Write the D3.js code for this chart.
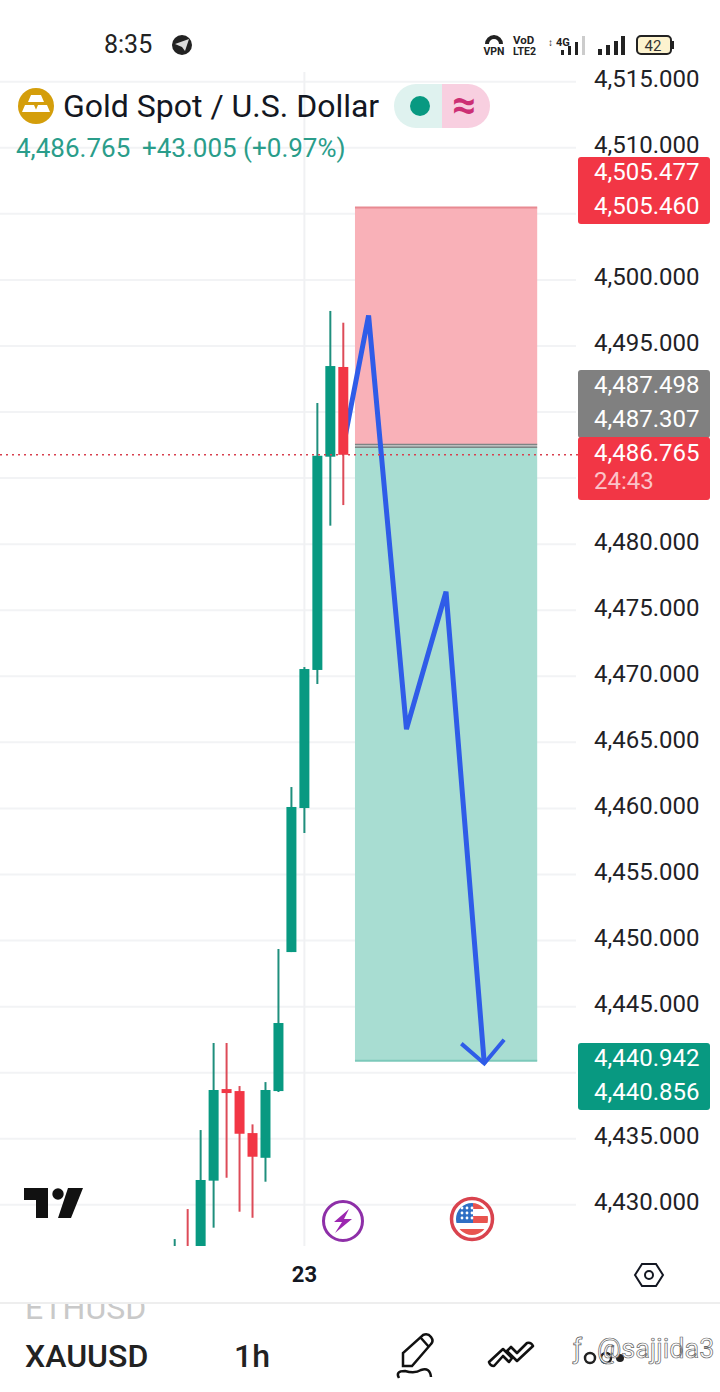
<!DOCTYPE html>
<html>
<head>
<meta charset="utf-8">
<script src="https://cdn.jsdelivr.net/npm/d3@7"></script>
<style>
html, body { margin: 0; padding: 0; background: #fff; }
svg { display: block; font-family: Roboto, sans-serif; }
</style>
</head>
<body>
<script>
// candles, oldest first. first bars run off the bottom of the pane
var bars   = [0, 1, 2, 3, 4, 5, 6, 7, 8, 9, 10, 11, 12, 13];
var opens  = [4424.0, 4426.0, 4424.5, 4431.83, 4438.76, 4438.61, 4435.43, 4433.56, 4438.61, 4449.13, 4460.03, 4470.48, 4486.62, 4493.41];
var highs  = [4427.41, 4429.68, 4435.66, 4442.25, 4442.25, 4438.99, 4436.09, 4439.29, 4449.36, 4461.62, 4470.70, 4490.68, 4497.65, 4496.76];
var lows   = [4422.0, 4423.0, 4423.0, 4428.27, 4432.05, 4429.48, 4429.02, 4431.75, 4438.54, 4449.13, 4458.14, 4469.42, 4481.40, 4482.96];
var closes = [4425.0, 4424.5, 4431.88, 4438.69, 4438.46, 4435.38, 4433.64, 4438.69, 4443.76, 4460.11, 4470.55, 4486.69, 4493.48, 4486.765];

var priceTicks = [4515, 4510, 4505, 4500, 4495, 4490, 4485, 4480, 4475, 4470, 4465, 4460, 4455, 4450, 4445, 4440, 4435, 4430];
var hiddenTicks = [4505, 4490, 4485, 4440];

// position tool, in bars and price
var toolBars = [13.9, 27.95];
var stopPrice = 4505.477;
var entryPrices = [4487.498, 4487.307];
var targetPrice = 4440.9;

// hand drawn path, bar number + price
var pathBars   = [13.0, 14.95, 17.87, 20.92, 23.87];
var pathPrices = [4487.4, 4497.3, 4466.0, 4476.4, 4440.7];
var headBars   = [22.1, 23.87, 25.4];
var headPrices = [4442.2, 4440.7, 4442.5];

var lastPrice = 4486.765;

var stopTags = ['4,505.477', '4,505.460'];
var entryTags = ['4,487.498', '4,487.307'];
var targetTags = ['4,440.942', '4,440.856'];

var GREEN = '#089981', RED = '#f23645', W = 720, H = 1392;

var svg = d3.select('body').append('svg').attr('width', W).attr('height', H);

var y = d3.scaleLinear().domain([4515, 4440]).range([81.7, 1072.7]);
var x = d3.scaleLinear().domain([0, 13]).range([174.7, 343.3]);

svg.append('defs').append('clipPath').attr('id', 'pane').append('rect')
  .attr('x', 0).attr('y', 72).attr('width', 578).attr('height', 1174);

var pane = svg.append('g').attr('clip-path', 'url(#pane)');

// grid
pane.selectAll('line.grid').data(priceTicks).enter().append('line')
  .attr('x1', 0).attr('x2', 576)
  .attr('y1', function(d) { return y(d); }).attr('y2', function(d) { return y(d); })
  .attr('stroke', '#f2f3f5').attr('stroke-width', 2);
pane.append('line').attr('x1', x(10)).attr('x2', x(10)).attr('y1', 72).attr('y2', 1246)
  .attr('stroke', '#f0f1f3').attr('stroke-width', 2);

// position tool
pane.append('rect').attr('x', x(toolBars[0])).attr('width', x(toolBars[1]) - x(toolBars[0]))
  .attr('y', y(stopPrice)).attr('height', y(entryPrices[0]) - y(stopPrice))
  .attr('fill', '#f9b1b8');
pane.append('rect').attr('x', x(toolBars[0])).attr('width', x(toolBars[1]) - x(toolBars[0]))
  .attr('y', y(entryPrices[1])).attr('height', y(targetPrice) - y(entryPrices[1]))
  .attr('fill', '#a8ddd2');
pane.append('line').attr('x1', x(toolBars[0])).attr('x2', x(toolBars[1]))
  .attr('y1', y(stopPrice)).attr('y2', y(stopPrice)).attr('stroke', '#e88a92').attr('stroke-width', 2);
pane.append('line').attr('x1', x(toolBars[0])).attr('x2', x(toolBars[1]))
  .attr('y1', y(targetPrice)).attr('y2', y(targetPrice)).attr('stroke', '#7cc9ba').attr('stroke-width', 2);
pane.selectAll('line.entry').data(entryPrices).enter().append('line')
  .attr('x1', x(toolBars[0])).attr('x2', x(toolBars[1]))
  .attr('y1', function(d) { return y(d) - 0.5; }).attr('y2', function(d) { return y(d) - 0.5; })
  .attr('stroke', '#7d8585').attr('stroke-width', 1.6);

// blue path goes under the candles
var line = d3.line()
  .x(function(d) { return x(d[0]); })
  .y(function(d) { return y(d[1]); });
pane.append('path').datum(d3.zip(pathBars, pathPrices)).attr('d', line)
  .attr('fill', 'none').attr('stroke', '#2f5ce8').attr('stroke-width', 5).attr('stroke-linejoin', 'miter');
pane.append('path').datum(d3.zip(headBars, headPrices)).attr('d', line)
  .attr('fill', 'none').attr('stroke', '#2f5ce8').attr('stroke-width', 4);

// candles
function barColor(i) { return closes[i] >= opens[i] ? GREEN : RED; }
var candle = pane.selectAll('g.candle').data(bars).enter().append('g').attr('class', 'candle');
candle.append('line')
  .attr('x1', function(i) { return x(i); }).attr('x2', function(i) { return x(i); })
  .attr('y1', function(i) { return y(highs[i]); }).attr('y2', function(i) { return y(lows[i]); })
  .attr('stroke', function(i) { return barColor(i) === GREEN ? '#1f8f7d' : '#dd4b58'; })
  .attr('stroke-width', 2);
candle.append('rect')
  .attr('x', function(i) { return x(i) - 5; }).attr('width', 10)
  .attr('y', function(i) { return y(Math.max(opens[i], closes[i])); })
  .attr('height', function(i) { return Math.abs(y(opens[i]) - y(closes[i])); })
  .attr('fill', barColor);

// last price line
pane.append('line').attr('x1', 0).attr('x2', 578)
  .attr('y1', y(lastPrice)).attr('y2', y(lastPrice))
  .attr('stroke', '#d8404f').attr('stroke-width', 1.5).attr('stroke-dasharray', '2 4');

// price axis
var fmt = d3.format(',.3f');
var axis = svg.append('g').attr('transform', 'translate(594,0)')
  .call(d3.axisRight(y).tickValues(priceTicks.filter(function(d) { return hiddenTicks.indexOf(d) < 0; }))
    .tickSize(0).tickPadding(0).tickFormat(fmt));
axis.select('.domain').remove();
axis.selectAll('text').attr('font-size', 24).attr('fill', '#1f2226')
  .attr('dy', null).attr('dominant-baseline', 'middle').attr('font-family', 'Roboto');
axis.selectAll('.tick').attr('transform', function(d) { return 'translate(0,' + (y(d) - 1) + ')'; });

// price tags on the right
function tagBox(top, bottom, fill) {
  svg.append('rect').attr('x', 578).attr('y', top).attr('width', 132).attr('height', bottom - top)
    .attr('rx', 3).attr('fill', fill);
}
function tagText(s, cy, fill) {
  svg.append('text').attr('x', 594).attr('y', cy).attr('dominant-baseline', 'middle')
    .attr('font-size', 24).attr('fill', fill).text(s);
}
tagBox(157, 224, '#f23645');
tagBox(370, 438, '#808080');
tagBox(437, 500, '#f23645');
tagBox(1043, 1110, '#089981');
stopTags.forEach(function(s, i) { tagText(s, 173.5 + i * 34, '#ffffff'); });
entryTags.forEach(function(s, i) { tagText(s, 386.5 + i * 34, '#ffffff'); });
tagText(fmt(lastPrice), 454.5, '#ffffff');
tagText('24:43', 482.5, '#fbc3c8');
targetTags.forEach(function(s, i) { tagText(s, 1059.5 + i * 34, '#ffffff'); });

// status bar
svg.append('text').attr('x', 104).attr('y', 53).attr('font-size', 25).attr('fill', '#222').text('8:35');
svg.append('circle').attr('cx', 182).attr('cy', 45).attr('r', 10).attr('fill', '#222');
svg.append('path').attr('d', 'M175 44 L189 39 L185 51 L182 47 Z').attr('fill', '#ddd');
svg.append('path').attr('d', 'M485 44 a9 9 0 0 1 18 0 l-4 0 a5 5 0 0 0 -10 0 Z').attr('fill', '#222');
svg.append('text').attr('x', 494).attr('y', 55).attr('text-anchor', 'middle').attr('font-size', 10.5).attr('font-weight', 700).attr('fill', '#222').text('VPN');
svg.append('text').attr('x', 513).attr('y', 44).attr('font-size', 11.5).attr('font-weight', 700).attr('fill', '#222').text('VoD');
svg.append('text').attr('x', 513).attr('y', 55).attr('font-size', 10.5).attr('font-weight', 700).attr('fill', '#222').text('LTE2');
svg.append('text').attr('x', 556).attr('y', 46).attr('font-size', 11).attr('font-weight', 700).attr('fill', '#222').text('4G');
svg.append('text').attr('x', 548).attr('y', 46).attr('font-size', 10).attr('fill', '#222').text('\u2195');
[[561, 50, 5], [568, 46, 9], [575, 42, 13]].forEach(function(b) {
  svg.append('rect').attr('x', b[0]).attr('y', b[1]).attr('width', 3).attr('height', b[2]).attr('fill', '#222');
});
svg.append('rect').attr('x', 582).attr('y', 36).attr('width', 3).attr('height', 19).attr('fill', '#ccc');
[[598, 49, 6], [606, 45, 10], [614, 41, 14], [621, 36, 19]].forEach(function(b) {
  svg.append('rect').attr('x', b[0]).attr('y', b[1]).attr('width', 4).attr('height', b[2]).attr('fill', '#222');
});
svg.append('rect').attr('x', 637).attr('y', 36).attr('width', 34).attr('height', 18).attr('rx', 4)
  .attr('fill', '#fdf3cf').attr('stroke', '#222').attr('stroke-width', 2);
svg.append('rect').attr('x', 672).attr('y', 41).attr('width', 2).attr('height', 8).attr('fill', '#222');
svg.append('text').attr('x', 653).attr('y', 51).attr('text-anchor', 'middle').attr('font-size', 15).attr('fill', '#333').text('42');

// legend
svg.append('circle').attr('cx', 36).attr('cy', 106).attr('r', 18).attr('fill', '#d49e0b');
svg.append('path').attr('d', 'M31 95 h10 l3 7 h-16 Z M22 112 l3 -7 h9 l3 7 Z M35 112 l3 -7 h9 l3 7 Z').attr('fill', '#fff');
svg.append('text').attr('x', 63).attr('y', 117).attr('font-size', 32).attr('fill', '#131722').text('Gold Spot / U.S. Dollar');
svg.append('path').attr('d', 'M442 84 h-26 a22 22 0 0 0 0 44 h26 Z').attr('fill', '#dff2ef');
svg.append('path').attr('d', 'M442 84 h26 a22 22 0 0 1 0 44 h-26 Z').attr('fill', '#f8cfe0');
svg.append('circle').attr('cx', 420).attr('cy', 106).attr('r', 10).attr('fill', GREEN);
svg.append('text').attr('x', 464).attr('y', 119).attr('text-anchor', 'middle').attr('font-size', 42).attr('font-weight', 700).attr('fill', '#cc2f74').text('\u2248');
svg.append('text').attr('x', 16).attr('y', 157).attr('font-size', 26).attr('fill', '#2a9d8a').text('4,486.765');
svg.append('text').attr('x', 142).attr('y', 157).attr('font-size', 26).attr('fill', '#2a9d8a').text('+43.005 (+0.97%)');

// tradingview logo
svg.append('path').attr('d', 'M24 1188 H48 V1218 H36 V1200 H24 Z M68 1188 H83 L71 1218 H58 Z').attr('fill', '#111');
svg.append('circle').attr('cx', 58).attr('cy', 1194).attr('r', 5.7).attr('fill', '#111');

// event markers
svg.append('circle').attr('cx', 343).attr('cy', 1221).attr('r', 19.5).attr('fill', '#fff').attr('stroke', '#8e2fa8').attr('stroke-width', 3);
svg.append('path').attr('d', 'M349 1209 L334 1222 H342 L335 1233 L352 1219 H344 Z').attr('fill', '#9c27b0');
svg.append('circle').attr('cx', 472).attr('cy', 1219).attr('r', 20.5).attr('fill', '#fff').attr('stroke', '#d9434e').attr('stroke-width', 3.5);
svg.append('defs').append('clipPath').attr('id', 'flag').append('circle').attr('cx', 472).attr('cy', 1219).attr('r', 16);
var flag = svg.append('g').attr('clip-path', 'url(#flag)');
flag.append('rect').attr('x', 456).attr('y', 1203).attr('width', 32).attr('height', 32).attr('fill', '#fff');
flag.append('rect').attr('x', 472).attr('y', 1216).attr('width', 16).attr('height', 7).attr('fill', '#e8544f');
flag.append('rect').attr('x', 456).attr('y', 1229).attr('width', 32).attr('height', 6).attr('fill', '#e8544f');
flag.append('rect').attr('x', 456).attr('y', 1203).attr('width', 17).attr('height', 20).attr('fill', '#2f6fc4');
flag.append('rect').attr('x', 473).attr('y', 1203).attr('width', 15).attr('height', 6).attr('fill', '#e8544f');
[462, 467, 472].forEach(function(sx) {
  [1208, 1213, 1218].forEach(function(sy) {
    flag.append('circle').attr('cx', sx).attr('cy', sy).attr('r', 1.4).attr('fill', '#fff');
  });
});

// time axis
svg.append('text').attr('x', x(10)).attr('y', 1282).attr('text-anchor', 'middle')
  .attr('font-size', 22).attr('font-weight', 700).attr('fill', '#131722').text('23');
svg.append('path').attr('d', 'M635 1275 L642 1264 H656 L663 1275 L656 1286 H642 Z')
  .attr('fill', 'none').attr('stroke', '#131722').attr('stroke-width', 2);
svg.append('circle').attr('cx', 649).attr('cy', 1275).attr('r', 4).attr('fill', 'none').attr('stroke', '#131722').attr('stroke-width', 2);
svg.append('line').attr('x1', 0).attr('x2', 720).attr('y1', 1303).attr('y2', 1303).attr('stroke', '#eeeeee').attr('stroke-width', 2);

// bottom toolbar
svg.append('defs').append('clipPath').attr('id', 'sheet').append('rect').attr('x', 0).attr('y', 1304).attr('width', 720).attr('height', 88);
var bottom = svg.append('g').attr('clip-path', 'url(#sheet)');
bottom.append('text').attr('x', 25).attr('y', 1319).attr('font-size', 32).attr('fill', '#c9c9c9').text('ETHUSD');
bottom.append('text').attr('x', 25).attr('y', 1367).attr('font-size', 32).attr('font-weight', 500).attr('fill', '#222').text('XAUUSD');
bottom.append('text').attr('x', 234).attr('y', 1367).attr('font-size', 32).attr('font-weight', 500).attr('fill', '#222').text('1h');
bottom.append('path').attr('d', 'M403 1366 V1353 L423 1335 Q428 1333 431 1337 Q434 1341 431 1344 L412 1366 Z M421 1338 L429 1347')
  .attr('fill', 'none').attr('stroke', '#111').attr('stroke-width', 2.5);
bottom.append('path').attr('d', 'M399 1378 Q395 1371 405 1371 Q415 1374 421 1370 Q430 1367 431 1377')
  .attr('fill', 'none').attr('stroke', '#111').attr('stroke-width', 2.5);
bottom.append('path').attr('d', 'M489 1362 L503 1349 L512 1358 L509 1362 L503 1356 L494 1366 Q490 1366 489 1362 Z M511 1347 L517 1353 L527 1343 Q531 1342 533 1346 L517 1361 L507 1351 Z')
  .attr('fill', 'none').attr('stroke', '#111').attr('stroke-width', 2.6).attr('stroke-linejoin', 'round');
bottom.append('circle').attr('cx', 590).attr('cy', 1358).attr('r', 5).attr('fill', 'none').attr('stroke', '#222').attr('stroke-width', 2.5);
bottom.append('circle').attr('cx', 606).attr('cy', 1358).attr('r', 5).attr('fill', 'none').attr('stroke', '#222').attr('stroke-width', 2.5);
bottom.append('circle').attr('cx', 620).attr('cy', 1358).attr('r', 4).attr('fill', '#222');

// watermark
svg.append('text').attr('x', 573).attr('y', 1358).attr('font-size', 27).attr('fill', '#fff')
  .attr('stroke', '#555').attr('stroke-width', 0.7).text('\u0192');
svg.append('text').attr('x', 597).attr('y', 1358).attr('font-size', 27).attr('fill', '#fff')
  .attr('stroke', '#666').attr('stroke-width', 0.7).text('@sajjida3');
</script>
</body>
</html>
